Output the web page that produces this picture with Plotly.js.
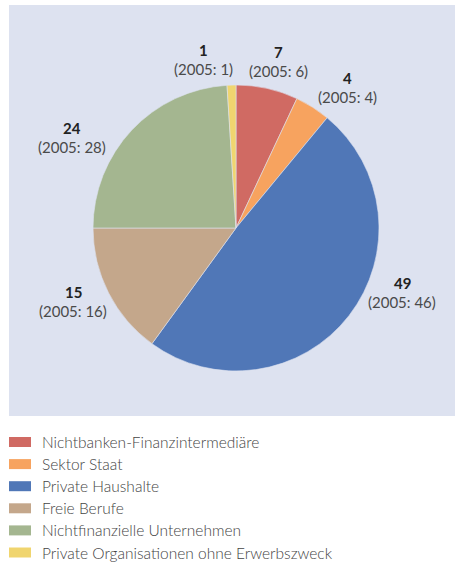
<!DOCTYPE html>
<html><head><meta charset="utf-8">
<script src="https://cdn.plot.ly/plotly-3.0.1.min.js"></script>
<style>html,body{margin:0;padding:0;background:#fff}#chart{width:455px;height:562px}</style>
</head><body><div id="chart"></div>
<script>
// Data
const labels = ["Nichtbanken-Finanzintermediäre","Sektor Staat","Private Haushalte","Freie Berufe","Nichtfinanzielle Unternehmen","Private Organisationen ohne Erwerbszweck"];
const values2010 = [7, 4, 49, 15, 24, 1];
const values2005 = [6, 4, 46, 16, 28, 1];
const colors = ["#d06a63","#f7a35f","#5077b7","#c4a78b","#a4b690","#f0d56f"];

// Layout helpers (positions in pixels)
const W = 455, H = 562;
const labelPos = [[278,52],[347,78],[402,283],[73,292],[72,128],[203,50]];
const legendTop = 442, legendStep = 22.1;

const px = x => x / W;
const py = y => 1 - y / H;

const annotations = [];
labels.forEach((l, i) => {
  const [x, y] = labelPos[i];
  annotations.push({xref:'paper', yref:'paper', x:px(x), y:py(y), text:'<b>'+values2010[i]+'</b>', showarrow:false,
    xanchor:'center', yanchor:'middle', font:{family:'Lato', size:15, color:'#222'}});
  annotations.push({xref:'paper', yref:'paper', x:px(x), y:py(y+19), text:'(2005: '+values2005[i]+')', showarrow:false,
    xanchor:'center', yanchor:'middle', font:{family:'Lato', size:15, color:'#4a4a4a'}});
  const ly = legendTop + i * legendStep;
  annotations.push({xref:'paper', yref:'paper', x:px(40), y:py(ly), text:l, showarrow:false,
    xanchor:'left', yanchor:'middle', font:{family:'Lato', size:15.5, color:'#444', weight:300}});
});

const shapes = [{type:'rect', xref:'paper', yref:'paper', x0:px(9), x1:1, y0:py(416), y1:py(5), fillcolor:'#dde2f0', line:{width:0}, layer:'below'}];
labels.forEach((l, i) => {
  const ly = legendTop + i * legendStep;
  shapes.push({type:'rect', xref:'paper', yref:'paper', x0:px(9), x1:px(31), y0:py(ly+5), y1:py(ly-5), fillcolor:colors[i], line:{width:0}});
});

const trace = {
  type:'pie', labels:labels, values:values2010, sort:false, direction:'clockwise', rotation:0,
  marker:{colors:colors, line:{color:'#dde2f0', width:0.6}},
  textinfo:'none', hoverinfo:'label+value', showlegend:false,
  domain:{x:[px(93), px(379)], y:[py(371), py(85)]}
};

Plotly.newPlot('chart', [trace], {
  width:W, height:H, margin:{l:0,r:0,t:0,b:0}, paper_bgcolor:'#fff', showlegend:false,
  annotations:annotations, shapes:shapes
}, {displayModeBar:false, staticPlot:true});
</script></body></html>
